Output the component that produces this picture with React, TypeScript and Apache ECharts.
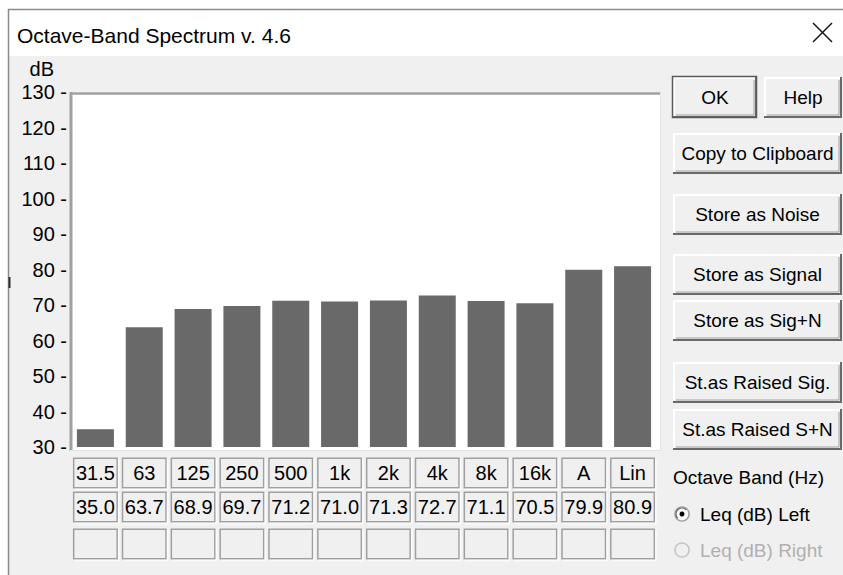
import React, { useEffect, useRef } from "react";
import * as echarts from "echarts";

// ---- data ----
const BANDS = ["31.5", "63", "125", "250", "500", "1k", "2k", "4k", "8k", "16k", "A", "Lin"];
const LEQ_LEFT = [35.0, 63.7, 68.9, 69.7, 71.2, 71.0, 71.3, 72.7, 71.1, 70.5, 79.9, 80.9];
const LEQ_RIGHT: (number | null)[] = [null, null, null, null, null, null, null, null, null, null, null, null];
const Y_MIN = 30;
const Y_MAX = 130;
const Y_STEP = 10;

const TITLE = "Octave-Band Spectrum v. 4.6";
const BUTTONS = [
  "OK",
  "Help",
  "Copy to Clipboard",
  "Store as Noise",
  "Store as Signal",
  "Store as Sig+N",
  "St.as Raised Sig.",
  "St.as Raised S+N",
];
const BAND_LABEL = "Octave Band (Hz)";
const RADIO_LEFT = "Leq (dB) Left";
const RADIO_RIGHT = "Leq (dB) Right";

const FONT = "'Liberation Sans', Arial, sans-serif";

// layout of the button column (x, y, w, h)
const BTN_BOXES: [number, number, number, number][] = [
  [673, 77, 84, 41],
  [764, 77, 78, 41],
  [673, 133, 169, 41],
  [673, 194, 169, 41],
  [673, 254, 169, 41],
  [673, 300, 169, 41],
  [673, 362, 169, 41],
  [673, 409, 169, 41],
];

function button(label: string, b: [number, number, number, number], isDefault: boolean): any[] {
  const [x, y, w, h] = b;
  const els: any[] = [
    { type: "rect", shape: { x, y, width: w, height: h }, style: { fill: "#f0f0f0" } },
    {
      type: "polyline",
      shape: { points: [[x + 1, y + h - 2], [x + 1, y + 1], [x + w - 2, y + 1]] },
      style: { stroke: "#ffffff", lineWidth: 2, fill: null },
    },
    {
      type: "polyline",
      shape: { points: [[x + 3, y + h - 3], [x + w - 3, y + h - 3], [x + w - 3, y + 3]] },
      style: { stroke: "#a0a0a0", lineWidth: 1, fill: null },
    },
    {
      type: "polyline",
      shape: { points: [[x, y + h - 1], [x + w - 1, y + h - 1], [x + w - 1, y]] },
      style: { stroke: "#696969", lineWidth: 2, fill: null },
    },
  ];
  if (isDefault) {
    els.push({
      type: "rect",
      shape: { x: x - 0.5, y: y - 0.5, width: w, height: h },
      style: { fill: null, stroke: "#5a5a5a", lineWidth: 1.5 },
    });
  }
  els.push({
    type: "text",
    x: x + w / 2,
    y: y + h / 2,
    style: {
      text: label,
      fill: "#000",
      font: `19px ${FONT}`,
      align: "center",
      verticalAlign: "middle",
    },
  });
  return els;
}

const cellRich = {
  c: {
    width: 42,
    height: 28,
    align: "center",
    verticalAlign: "middle",
    backgroundColor: "#f0f0f0",
    borderColor: "#a0a0a0",
    borderWidth: 1.5,
    shadowColor: "#ffffff",
    shadowOffsetX: 1.5,
    shadowOffsetY: 1.5,
    shadowBlur: 0,
    fontSize: 20,
    fontFamily: FONT,
    color: "#000",
    lineHeight: 28,
  },
};

function rowAxis(offset: number, formatter: (v: string, i: number) => string): any {
  return {
    type: "category",
    data: BANDS,
    position: "bottom",
    offset,
    axisLine: { show: false },
    axisTick: { show: false },
    splitLine: { show: false },
    axisLabel: { interval: 0, margin: 12, formatter, rich: cellRich },
  };
}

export default function App() {
  const ref = useRef<HTMLDivElement>(null);

  useEffect(() => {
    document.body.style.margin = "0";
    const chart = echarts.init(ref.current!, null, { renderer: "svg" });

    const graphics: any[] = [
      // title bar and window frame
      { type: "rect", shape: { x: 9, y: 10, width: 834, height: 46 }, style: { fill: "#ffffff" } },
      { type: "rect", shape: { x: 0, y: 0, width: 9, height: 575 }, style: { fill: "#ffffff" } },
      { type: "rect", shape: { x: 0, y: 0, width: 843, height: 10 }, style: { fill: "#ffffff" } },
      { type: "line", shape: { x1: 8, y1: 9.5, x2: 843, y2: 9.5 }, style: { stroke: "#8a8a8a", lineWidth: 1.5 } },
      { type: "line", shape: { x1: 8.5, y1: 9, x2: 8.5, y2: 575 }, style: { stroke: "#8a8a8a", lineWidth: 1.5 } },
      { type: "line", shape: { x1: 9.5, y1: 277, x2: 9.5, y2: 288 }, style: { stroke: "#303030", lineWidth: 2 } },
      {
        type: "text",
        x: 17,
        y: 35,
        style: { text: TITLE, fill: "#000", font: `21px ${FONT}`, align: "left", verticalAlign: "middle" },
      },
      { type: "line", shape: { x1: 813, y1: 23, x2: 832, y2: 42 }, style: { stroke: "#111", lineWidth: 1.5 } },
      { type: "line", shape: { x1: 832, y1: 23, x2: 813, y2: 42 }, style: { stroke: "#111", lineWidth: 1.5 } },
      // plot box (sunken)
      { type: "rect", shape: { x: 70, y: 92, width: 591, height: 359 }, style: { fill: "#ffffff" } },
      { type: "line", shape: { x1: 71, y1: 92, x2: 71, y2: 451 }, style: { stroke: "#a0a0a0", lineWidth: 3 } },
      { type: "line", shape: { x1: 70, y1: 93.5, x2: 661, y2: 93.5 }, style: { stroke: "#a0a0a0", lineWidth: 2.5 } },
      { type: "line", shape: { x1: 660.5, y1: 92, x2: 660.5, y2: 451 }, style: { stroke: "#e3e3e3", lineWidth: 1 } },
      { type: "line", shape: { x1: 70, y1: 450.5, x2: 661, y2: 450.5 }, style: { stroke: "#e3e3e3", lineWidth: 1 } },
    ];

    BUTTONS.forEach((b, i) => graphics.push(...button(b, BTN_BOXES[i], i === 0)));

    graphics.push(
      {
        type: "text",
        x: 673,
        y: 477,
        style: { text: BAND_LABEL, fill: "#000", font: `19px ${FONT}`, align: "left", verticalAlign: "middle" },
      },
      // radio: left (checked)
      { type: "circle", shape: { cx: 682, cy: 514, r: 7 }, style: { fill: "#ffffff", stroke: "#a0a0a0", lineWidth: 1.5 } },
      { type: "arc", shape: { cx: 682, cy: 514, r: 6, startAngle: Math.PI * 0.75, endAngle: Math.PI * 1.75 }, style: { stroke: "#696969", lineWidth: 1.2, fill: null } },
      { type: "circle", shape: { cx: 682, cy: 514, r: 2.5 }, style: { fill: "#000" } },
      {
        type: "text",
        x: 700,
        y: 514,
        style: { text: RADIO_LEFT, fill: "#000", font: `19px ${FONT}`, align: "left", verticalAlign: "middle" },
      },
      // radio: right (disabled)
      { type: "circle", shape: { cx: 682, cy: 550, r: 7 }, style: { fill: "#f0f0f0", stroke: "#c4c4c4", lineWidth: 1.5 } },
      {
        type: "text",
        x: 700,
        y: 550,
        style: { text: RADIO_RIGHT, fill: "#b0b0b0", font: `19px ${FONT}`, align: "left", verticalAlign: "middle" },
      }
    );

    const option: any = {
      animation: false,
      backgroundColor: "#f0f0f0",
      grid: { left: 71, right: 186, top: 92, bottom: 128, containLabel: false },
      xAxis: [
        rowAxis(0, (v: string) => `{c|${v}}`),
        rowAxis(34, (_v: string, i: number) => `{c|${LEQ_LEFT[i].toFixed(1)}}`),
        rowAxis(71, (_v: string, i: number) => `{c|${LEQ_RIGHT[i] == null ? " " : (LEQ_RIGHT[i] as number).toFixed(1)}}`),
      ],
      yAxis: {
        type: "value",
        min: Y_MIN,
        max: Y_MAX,
        interval: Y_STEP,
        name: "dB",
        nameLocation: "end",
        nameGap: 13,
        nameTextStyle: { color: "#000", fontSize: 20, fontFamily: FONT, align: "right", padding: [0, 17, 0, 0] },
        axisLine: { show: false },
        axisTick: { show: false },
        splitLine: { show: false },
        axisLabel: {
          color: "#000",
          fontSize: 20,
          fontFamily: FONT,
          margin: 4,
          formatter: (v: number) => `${v} -`,
        },
      },
      series: [
        {
          name: RADIO_LEFT,
          type: "bar",
          xAxisIndex: 0,
          data: LEQ_LEFT,
          barWidth: 37,
          itemStyle: { color: "#696969" },
        },
      ],
      graphic: graphics,
    };

    chart.setOption(option);
    return () => chart.dispose();
  }, []);

  return <div ref={ref} style={{ width: 843, height: 575 }} />;
}
